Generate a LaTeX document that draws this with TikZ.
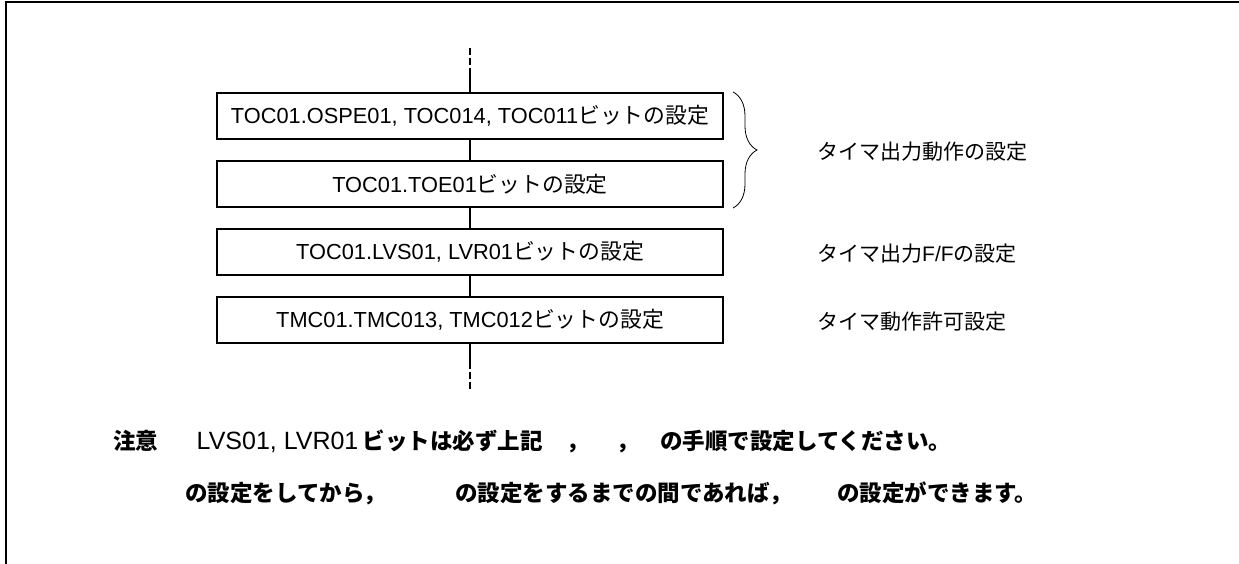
\documentclass[tikz,border=0pt]{standalone}
\usepackage{fontspec}
\setmainfont{Liberation Sans}
\newfontfamily\jpfont{Noto Sans CJK JP}
\newcommand{\jp}[1]{{\jpfont #1}}
\usetikzlibrary{positioning,decorations.pathreplacing}

\begin{document}
\begin{tikzpicture}[x=1pt,y=-1pt,
  stepbox/.style={draw, line width=2pt, minimum width=506pt, minimum height=46pt,
    inner sep=0pt, font=\fontsize{21.8}{25}\selectfont},
  flow/.style={line width=1.2pt},
  note/.style={anchor=west, inner sep=0pt, font=\fontsize{21}{25}\selectfont\jpfont},
  warn/.style={anchor=base west, inner sep=0pt, font=\fontsize{22.5}{26}\selectfont\jpfont\bfseries}]
  \useasboundingbox (0,0) rectangle (1239,564);
  \draw[line width=2.5pt] (6,564) -- (6,2) -- (1239,2);

  % steps
  \node[stepbox] (s1) at (470,116) {TOC01.OSPE01, TOC014, TOC011\jp{ビットの設定}};
  \node[stepbox] (s2) at (470,184) {TOC01.TOE01\jp{ビットの設定}};
  \node[stepbox] (s3) at (470,252) {TOC01.LVS01, LVR01\jp{ビットの設定}};
  \node[stepbox] (s4) at (470,320) {TMC01.TMC013, TMC012\jp{ビットの設定}};

  \coordinate (top) at (470,48);
  \coordinate (topend) at (470,69);
  \coordinate (botend) at (470,362);
  \coordinate (bot) at (470,389);
  \draw[flow, dash pattern=on 7pt off 3pt] (top) -- (topend);
  \draw[flow] (topend) -- (s1) (s1) -- (s2) (s2) -- (s3) (s3) -- (s4) (s4) -- (botend);
  \draw[flow, dash pattern=on 7pt off 3pt] (botend) -- (bot);

  % brace and labels
  \draw[line width=0.8pt, decorate, decoration={brace, amplitude=24pt}]
    ([xshift=9pt]s1.north east) -- ([xshift=9pt]s2.south east);
  \node[note] (l1) at (817,152) {タイマ出力動作の設定};
  \node[note] (l2) at (817,254) {タイマ出力{\rmfamily F/F}の設定};
  \node[note] (l3) at (817,322) {タイマ動作許可設定};

  % note
  \node[warn] (w1) at (113,449) {注意};
  \node[warn, anchor=base east] (w3) at (543,449) {ビットは必ず上記};
  \node[inner sep=0pt, font=\fontsize{25}{29}\selectfont,
    left=4pt of w3.base west, anchor=base east] (w2) {LVS01, LVR01};
  \node[warn] (c1) at (566,449) {，};
  \node[warn] (c2) at (616,449) {，};
  \node[warn] (w4) at (660,449) {の手順で設定してください。};
  \node[warn] (w5) at (185,501) {の設定をしてから，};
  \node[warn] (w6) at (455,501) {の設定をするまでの間であれば，};
  \node[warn] (w7) at (837,501) {の設定ができます。};
\end{tikzpicture}
\end{document}
